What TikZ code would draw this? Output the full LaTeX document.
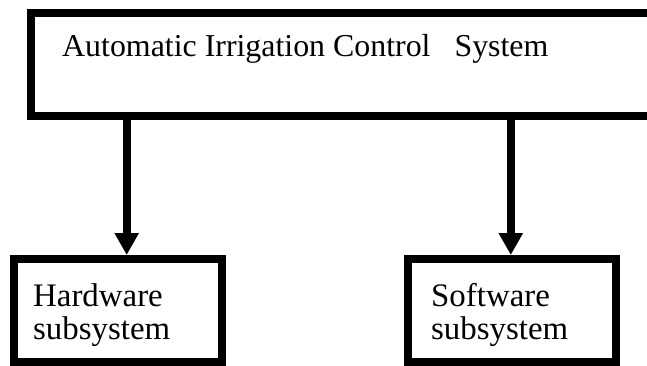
\documentclass[tikz,border=0pt]{standalone}
\usepackage{fontspec}
\setmainfont{Liberation Serif}
\usetikzlibrary{arrows.meta}

\tikzset{
  frame/.style={draw=black, line width=8bp, fill=white, rectangle, inner sep=0pt},
  toptext/.style={font=\fontsize{32}{34}\selectfont, inner sep=0pt, anchor=base west},
  subtext/.style={font=\fontsize{33}{33}\selectfont, inner sep=0pt, anchor=base west, align=left},
  feed/.style={line width=8bp, -{Triangle[width=23bp,length=22bp]}},
}

\begin{document}
\begin{tikzpicture}[x=1bp, y=-1bp]
  \useasboundingbox (0,0) rectangle (647,365);

  % main system frame (runs past the right edge)
  \node[frame, minimum width=649bp, minimum height=103bp] (sys) at (355.5,64.5) {};
  \node[toptext] (systxt) at (62,56) {Automatic Irrigation Control\hspace{24bp}System};

  % subsystem frames
  \node[frame, minimum width=208bp, minimum height=103bp] (hw) at (118,310.5) {};
  \node[frame, minimum width=208bp, minimum height=103bp] (sw) at (512,310.5) {};
  % multi-line nodes sit on the baseline of their last line
  \node[subtext] (hwtxt) at (33,339) {Hardware\\subsystem};
  \node[subtext] (swtxt) at (431,339) {Software\\subsystem};

  % connectors
  \coordinate (hwdrop) at (126.7,110);
  \coordinate (swdrop) at (510.8,110);
  \draw[feed] (hwdrop |- sys.south) -- (hwdrop |- hw.north);
  \draw[feed] (swdrop |- sys.south) -- (swdrop |- sw.north);
\end{tikzpicture}
\end{document}
